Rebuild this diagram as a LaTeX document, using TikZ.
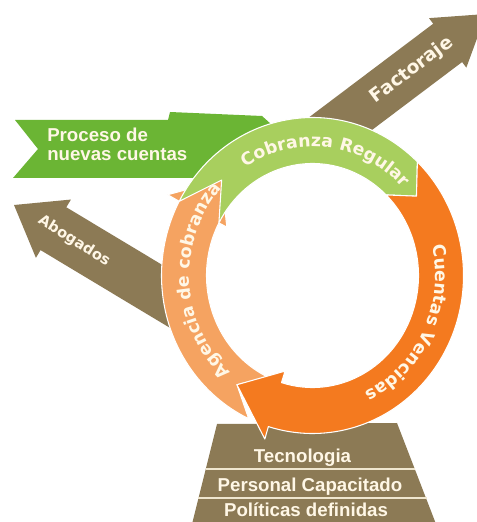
\documentclass[tikz,border=0pt]{standalone}
\usepackage{fontspec}
\newfontfamily\dejafont{DejaVu Sans}
\newfontfamily\libfont{Liberation Sans}
\usetikzlibrary{decorations.text}
\definecolor{brownA}{HTML}{8C7A55}
\definecolor{orangeA}{HTML}{F47A1F}
\definecolor{orangeL}{HTML}{F5A361}
\definecolor{greenL}{HTML}{A8CF5E}
\definecolor{greenD}{HTML}{6BB534}
\definecolor{creamA}{HTML}{FFF7E6}
\definecolor{creamB}{HTML}{EFE6CF}
\newcommand\ringfont{\dejafont\bfseries\fontsize{13}{15}\selectfont}
\tikzset{
  seg/.style={draw=white, line width=0.8pt, line join=round},
  brownarrow/.style={fill=brownA},
  arrowlabel/.style={text=creamA, inner sep=0pt},
  baselabel/.style={text=creamA, font=\libfont\bfseries\fontsize{14}{16}\selectfont, anchor=base, inner sep=0pt},
  ringtext/.style={decorate, decoration={text along path, text align=center, text color=creamA, text={|\ringfont|#1}}}
}
\begin{document}
\begin{tikzpicture}[x=0.75pt,y=0.75pt]
\useasboundingbox (0,0) rectangle (477,522);
\clip (0,0) rectangle (477,522);
\fill[white] (0,0) rectangle (477,522);

% Abogados arrow
\begin{scope}[shift={(14,317)}, rotate=149]
  \fill[brownarrow] (0,0) -- (-46,34) -- (-46,25) -- (-205,25) -- (-205,-25) -- (-46,-25) -- (-46,-34) -- cycle;
\end{scope}
\node[arrowlabel, rotate=-32, font=\dejafont\bfseries\fontsize{11}{13}\selectfont] (abog) at (74,281) {Abogados};

% Factoraje arrow
\begin{scope}[shift={(486,508)}, rotate=37]
  \fill[brownarrow] (0,0) -- (-48,31) -- (-48,24) -- (-212,24) -- (-212,-24) -- (-48,-24) -- (-48,-31) -- cycle;
\end{scope}
\node[arrowlabel, rotate=37, font=\dejafont\bfseries\fontsize{14}{16}\selectfont] (fact) at (412,452) {Factoraje};

% Proceso de nuevas cuentas
\fill[greenD] (15,402) -- (168,402) -- (170,410) -- (262,406) -- (300,372) -- (225,330) -- (205,344) -- (13,344) -- (38,373) -- cycle;
\node[arrowlabel, anchor=base west, font=\libfont\bfseries\fontsize{14}{16}\selectfont] (proc1) at (47,380) {Proceso de};
\node[arrowlabel, anchor=base west, font=\libfont\bfseries\fontsize{14}{16}\selectfont] (proc2) at (47,361) {nuevas cuentas};

% base
\fill[brownA] (217,98) -- (397,99) -- (436,-2) -- (192,-2) -- cycle;
\draw[creamB, line width=2pt] (205.5,53) -- (415.1,53);
\draw[creamB, line width=2pt] (198.1,24) -- (426.5,24);
\node[baselabel] (tec) at (302.5,59) {Tecnologia};
\node[baselabel] (pers) at (310,31) {Personal Capacitado};
\node[baselabel] (pol) at (306,6) {Políticas definidas};

% ring
\begin{scope}[shift={(312.5,246.5)}]
  \coordinate (C) at (0,0);
  % light orange: Agencia de cobranza
  \fill[orangeL, seg] (245:151 and 158) arc[start angle=245, end angle=152, x radius=151, y radius=158]
    -- (152:164 and 172) -- (135:128.5 and 135) -- (152:97 and 103) -- (152:106 and 112)
    arc[start angle=152, end angle=245, x radius=106, y radius=112]
    -- (234:128.5 and 135) -- cycle;
  % green: Cobranza Regular
  \fill[greenL, seg] (152:151 and 158) arc[start angle=152, end angle=46, x radius=151, y radius=158]
    -- (36:128.5 and 135) -- (46:106 and 112)
    arc[start angle=46, end angle=152, x radius=106, y radius=112]
    -- (135:128.5 and 135) -- cycle;
  % orange: Cuentas Vencidas
  \fill[orangeA, seg] (46:151 and 158) arc[start angle=46, end angle=-107, x radius=151, y radius=158]
    -- (-107:163 and 171) -- (-126:128.5 and 135) -- (-107:94 and 100) -- (-107:106 and 112)
    arc[start angle=-107, end angle=46, x radius=106, y radius=112]
    -- (36:128.5 and 135) -- cycle;
  % texts along the ring
  \path[ringtext={Cobranza Regular}] (133:123 and 129) arc[start angle=133, end angle=33, x radius=123, y radius=129];
  \path[ringtext={Cuentas Vencidas}] (25:123 and 129) arc[start angle=25, end angle=-77, x radius=123, y radius=129];
  \path[ringtext={Agencia de cobranza}] (236:123 and 129) arc[start angle=236, end angle=130, x radius=123, y radius=129];
\end{scope}
\end{tikzpicture}
\end{document}
